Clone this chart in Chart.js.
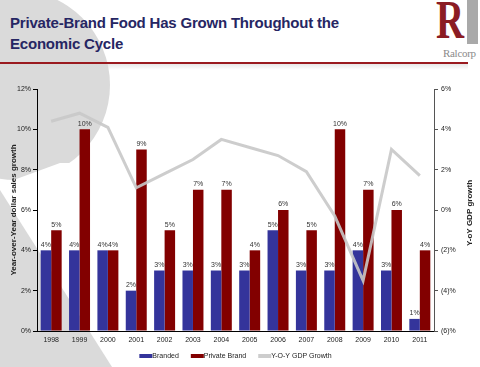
<!DOCTYPE html>
<html>
<head>
<meta charset="utf-8">
<script src="https://cdn.jsdelivr.net/npm/chart.js@4.4.0/dist/chart.umd.min.js"></script>
<style>
  html, body { margin: 0; padding: 0; background: #fff; }
  #slide { position: relative; width: 480px; height: 367px; overflow: hidden; font-family: "Liberation Sans", Arial, sans-serif; }
  #bg { position: absolute; left: 0; top: 0; }
  #title { position: absolute; left: 10px; top: 12px; margin: 0; font-size: 15px; line-height: 21px; font-weight: bold; color: #262663; letter-spacing: -0.2px; }
  #rule { position: absolute; left: 0; top: 62px; width: 468px; height: 2px; background: #9a1a1f; }
  #shade { position: absolute; left: 0; top: 64px; width: 468px; height: 6px; background: linear-gradient(#d8d8d8, rgba(255,255,255,0)); opacity: 0.6; }
  #logoR { position: absolute; left: 436px; top: -7px; font-family: "Liberation Serif", serif; font-weight: bold; font-size: 54px; color: #8b1c24; line-height: 54px; transform: scaleX(0.72); transform-origin: left top; }
  #logoBar { position: absolute; left: 467px; top: 0; width: 11px; height: 44px; background: #a9a9a9; }
  #logoText { position: absolute; left: 443px; top: 47px; font-family: "Liberation Serif", serif; font-size: 11px; color: #8a8a8a; letter-spacing: -0.3px; }
  #wrap { position: absolute; left: 0; top: 0; width: 480px; height: 367px; }
</style>
</head>
<body>
<div id="slide">
  <svg id="bg" width="480" height="367">
    <circle cx="15" cy="85" r="95" fill="#dadada"/>
    <polygon points="0,185 60,163 140,163 140,260 0,260" fill="#ffffff"/>
    <polygon points="0,190 112,367 0,367" fill="#dadada"/>
  </svg>
  <h1 id="title">Private-Brand Food Has Grown Throughout the<br>Economic Cycle</h1>
  <div id="shade"></div>
  <div id="rule"></div>
  <div id="logoBar"></div>
  <div id="logoR">R</div>
  <div id="logoText">Ralcorp</div>
  <div id="wrap"><canvas id="chart" width="480" height="367"></canvas></div>
</div>
<script>
const years = ['1998', '1999', '2000', '2001', '2002', '2003', '2004', '2005', '2006', '2007', '2008', '2009', '2010', '2011'];
const branded = [4, 4, 4, 2, 3, 3, 3, 3, 5, 3, 3, 4, 3, 0.6];
const privateBrand = [5, 10, 4, 9, 5, 7, 7, 4, 6, 5, 10, 7, 6, 4];
const gdpGrowth = [4.4, 4.8, 4.1, 1.1, 1.8, 2.5, 3.5, 3.1, 2.7, 1.9, -0.3, -3.5, 3.0, 1.7];
const seriesNames = ['Branded', 'Private Brand', 'Y-O-Y GDP Growth'];
const axisTitles = ['Year-over-Year dollar sales growth', 'Y-oY GDP growth'];

const FONT = '"Liberation Sans", Arial, sans-serif';

// labels over the bars, axis titles and the legend
const extras = {
    id: 'extras',
    afterDatasetsDraw(chart) {
        const ctx = chart.ctx;
        ctx.save();
        ctx.font = '7px ' + FONT;
        ctx.fillStyle = '#333';
        ctx.textAlign = 'center';
        ctx.textBaseline = 'bottom';
        chart.data.datasets.forEach((ds, i) => {
            if (ds.type === 'line') return;
            chart.getDatasetMeta(i).data.forEach((bar, j) => {
                ctx.fillText(Math.round(ds.data[j]) + '%', bar.x, bar.y - 2);
            });
        });
        ctx.restore();
    },
    afterDraw(chart) {
        const ctx = chart.ctx;
        const area = chart.chartArea;
        const midY = (area.top + area.bottom) / 2;
        ctx.save();
        ctx.font = 'bold 8px ' + FONT;
        ctx.fillStyle = '#222';
        ctx.textAlign = 'center';
        ctx.textBaseline = 'middle';
        [[14, midY, axisTitles[0]], [470, midY + 3, axisTitles[1]]].forEach(([x, y, t]) => {
            ctx.save();
            ctx.translate(x, y);
            ctx.rotate(-Math.PI / 2);
            ctx.fillText(t, 0, 0);
            ctx.restore();
        });

        // legend
        ctx.font = '7px ' + FONT;
        ctx.textAlign = 'left';
        const sw = 13, gap = 12;
        const items = chart.data.datasets.map(ds => ({
            text: ds.label,
            color: ds.type === 'line' ? ds.borderColor : ds.backgroundColor,
            w: sw + ctx.measureText(ds.label).width
        }));
        const total = items.reduce((s, it) => s + it.w, 0) + gap * (items.length - 1);
        let x = (area.left + area.right) / 2 - total / 2;
        const y = 356;
        items.forEach(it => {
            ctx.fillStyle = it.color;
            ctx.fillRect(x, y - 2, sw, 4);
            ctx.fillStyle = '#222';
            ctx.fillText(it.text, x + sw, y);
            x += it.w + gap;
        });
        ctx.restore();
    }
};

const tickFont = { family: FONT, size: 7 };

new Chart(document.getElementById('chart'), {
    type: 'bar',
    data: {
        labels: years,
        datasets: [
            {
                label: seriesNames[0],
                data: branded,
                backgroundColor: '#34349b',
                yAxisID: 'y',
                order: 1
            },
            {
                label: seriesNames[1],
                data: privateBrand,
                backgroundColor: '#820000',
                yAxisID: 'y',
                order: 1
            },
            {
                type: 'line',
                label: seriesNames[2],
                data: gdpGrowth,
                yAxisID: 'y2',
                borderColor: 'rgba(200,200,200,0.9)',
                borderWidth: 3,
                pointRadius: 0,
                tension: 0,
                order: 0
            }
        ]
    },
    options: {
        responsive: false,
        animation: false,
        categoryPercentage: 0.74,
        barPercentage: 1.0,
        layout: { padding: { left: 0, right: 0, top: 89, bottom: 22 } },
        plugins: {
            legend: { display: false },
            tooltip: { enabled: false }
        },
        scales: {
            x: {
                grid: { drawOnChartArea: false, drawTicks: false },
                border: { display: true, color: '#000', width: 1 },
                ticks: { font: tickFont, color: '#222', padding: 5, maxRotation: 0 },
                afterFit(scale) { scale.height = 14; }
            },
            y: {
                position: 'left',
                min: 0,
                max: 12,
                grid: { drawOnChartArea: false, drawTicks: true, tickLength: 4, tickColor: '#000' },
                border: { display: true, color: '#000', width: 1 },
                ticks: {
                    stepSize: 2,
                    font: tickFont,
                    color: '#222',
                    padding: 2,
                    callback: v => v + '%'
                },
                afterFit(scale) { scale.width = 37; }
            },
            y2: {
                position: 'right',
                min: -6,
                max: 6,
                grid: { drawOnChartArea: false, drawTicks: true, tickLength: 4, tickColor: '#555' },
                border: { display: true, color: '#555', width: 1 },
                ticks: {
                    stepSize: 2,
                    font: tickFont,
                    color: '#222',
                    padding: 3,
                    callback: v => v < 0 ? '(' + (-v) + ')%' : v + '%'
                },
                afterFit(scale) { scale.width = 46; }
            }
        }
    },
    plugins: [extras]
});
</script>
</body>
</html>
